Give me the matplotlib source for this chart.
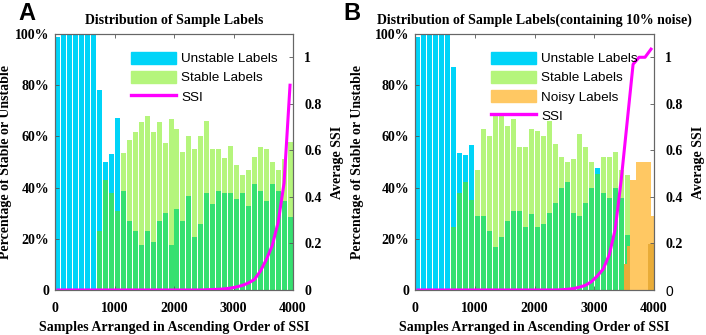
import numpy as np
import matplotlib
matplotlib.use('Agg')
import matplotlib.pyplot as plt
from matplotlib.patches import Patch
from matplotlib.lines import Line2D

# bins of 100 samples, 0..4000
bin_centers = np.arange(50, 4000, 100)
noisy_centers = np.arange(3525, 4000, 50)

# panel A
a_unstable = [0.99, 1, 1, 1, 1, 1, 1, 0.78, 0.50, 0.53, 0.67,
              0.388, 0.268, 0.229, 0.176, 0.229, 0.187, 0.268, 0.30, 0.176,
              0.318, 0.268, 0.369, 0.207, 0.259, 0.379, 0.337, 0.388, 0.379, 0.379,
              0.356, 0.379, 0.327, 0.416, 0.388, 0.346, 0.416, 0.388, 0.346, 0.287]
a_stable = [0, 0, 0, 0, 0, 0, 0, 0.23, 0.43, 0.38, 0.31,
            0.537, 0.587, 0.617, 0.658, 0.678, 0.617, 0.658, 0.575, 0.668,
            0.627, 0.538, 0.60, 0.549, 0.60, 0.66, 0.549, 0.549, 0.516, 0.562,
            0.49, 0.45, 0.47, 0.52, 0.56, 0.55, 0.50, 0.47, 0.51, 0.58]
a_ssi = [0] * 25 + [0.001, 0.002, 0.003, 0.005, 0.008, 0.013, 0.02, 0.03, 0.045,
                    0.08, 0.13, 0.19, 0.29, 0.46, 0.88]

# panel B
b_unstable = [0.99, 1, 1, 1, 1, 1, 0.87, 0.537, 0.528, 0.567,
              0.29, 0.29, 0.23, 0.167, 0.208, 0.268, 0.307, 0.307, 0.248, 0.298,
              0.248, 0.257, 0.30, 0.339, 0.40, 0.42, 0.30, 0.29, 0.339, 0.40,
              0.477, 0.377, 0.358, 0.40, 0.36, 0.216, 0, 0, 0, 0]
b_stable = [0, 0, 0, 0, 0, 0, 0.248, 0.379, 0.42, 0.35,
            0.467, 0.63, 0.60, 0.68, 0.685, 0.64, 0.668, 0.56, 0.56, 0.63,
            0.62, 0.60, 0.66, 0.57, 0.52, 0.50, 0.51, 0.61, 0.56, 0.50,
            0.455, 0.52, 0.52, 0.54, 0.47, 0.448, 0, 0, 0, 0.18]
b_noisy = [0.10, 0.17, 0.43, 0.43, 0.50, 0.50, 0.50, 0.50, 0.50, 0.29]
b_ssi = [0] * 24 + [0.001, 0.003, 0.006, 0.012, 0.02, 0.035, 0.06, 0.09, 0.15,
                    0.26, 0.47, 0.72, 0.97, 1.0, 1.0, 1.035]

pct_ticks = [0, 0.2, 0.4, 0.6, 0.8, 1.0]
pct_labels = ['0', '20%', '40%', '60%', '80%', '100%']
ssi_ticks = [0, 0.2, 0.4, 0.6, 0.8, 1.0]
ssi_labels = ['0', '0.2', '0.4', '0.6', '0.8', '1']
x_ticks = [0, 1000, 2000, 3000, 4000]

CYAN = '#00d4f8'
LIGHT = '#b5f57c'
DARK = '#36e070'
ORANGE = '#ffc863'
DORANGE = '#e9ac38'
MAGENTA = '#ff00ff'
SERIF = 'Liberation Serif'
SANS = 'Liberation Sans'
W, H = 706, 335


def draw_panel(rect, unstable, stable, ssi, title, noisy=None, ylab_x=-0.18, leg_x=0.32):
    ax = fig.add_axes(rect)
    unstable = np.array(unstable)
    stable = np.array(stable)
    ax.bar(bin_centers, unstable, width=84, color=CYAN, linewidth=0)
    ax.bar(bin_centers, stable, width=84, color=LIGHT, linewidth=0)
    ax.bar(bin_centers, np.minimum(unstable, stable), width=84, color=DARK, linewidth=0)
    handles = [Patch(color=CYAN, label='Unstable Labels'),
               Patch(color=LIGHT, label='Stable Labels')]
    if noisy is not None:
        noisy = np.array(noisy)
        under = np.repeat(stable[-5:], 2)
        ax.bar(noisy_centers, noisy, width=40, color=ORANGE, linewidth=0)
        ax.bar(noisy_centers, np.minimum(noisy, under), width=40, color=DORANGE, linewidth=0)
        handles.append(Patch(color=ORANGE, label='Noisy Labels'))
    handles.append(Line2D([], [], color=MAGENTA, lw=2.4, label='SSI'))

    ax.set_xlim(0, 4000)
    ax.set_ylim(0, 1)
    ax.set_xticks(x_ticks)
    ax.set_xticklabels([str(t) for t in x_ticks])
    ax.set_yticks(pct_ticks)
    ax.set_yticklabels(pct_labels)
    ax.tick_params(direction='in', length=3, top=True, width=0.6, colors='#555555',
                   labelcolor='black')
    ax.tick_params(axis='y', pad=4)
    ax.tick_params(axis='x', pad=9)
    ax.set_title(title, fontfamily=SERIF, fontweight='bold', fontsize=10, pad=7)
    ax.set_xlabel('Samples Arranged in Ascending Order of SSI', fontfamily=SERIF,
                  fontweight='bold', fontsize=10, labelpad=4)
    ax.set_ylabel('Percentage of Stable or Unstable', fontfamily=SERIF,
                  fontweight='bold', fontsize=10)
    ax.yaxis.set_label_coords(ylab_x, 0.5)

    ax2 = ax.twinx()
    ax2.plot(bin_centers, ssi, color=MAGENTA, lw=2.2)
    ax2.set_ylim(0, 1.1)
    ax2.set_yticks(ssi_ticks)
    ax2.set_yticklabels(ssi_labels)
    ax2.tick_params(direction='in', length=3, width=0.6, colors='#555555',
                    labelcolor='black', pad=8)
    ax2.set_ylabel('Average SSI', fontfamily=SERIF, fontweight='bold', fontsize=10)
    ax2.yaxis.set_label_coords(1.16, 0.5)

    for a in (ax, ax2):
        for lbl in a.get_xticklabels() + a.get_yticklabels():
            lbl.set_fontfamily(SERIF)
            lbl.set_fontweight('bold')
            lbl.set_fontsize(10)
        for sp in a.spines.values():
            sp.set_color('#666666')
            sp.set_linewidth(0.8)

    ax2.legend(handles=handles, loc='upper left', bbox_to_anchor=(leg_x, 0.93),
               frameon=False, borderpad=0, borderaxespad=0, handlelength=3.3,
               handleheight=0.95, handletextpad=0.4, labelspacing=0.42,
               prop={'family': SANS, 'size': 9.7})
    return ax, ax2


fig = plt.figure(figsize=(W / 100, H / 100), dpi=100)

draw_panel([55 / W, 45 / H, 238 / W, 256 / H], a_unstable, a_stable, a_ssi,
           'Distribution of Sample Labels', ylab_x=-0.18)
axb, axb2 = draw_panel([415 / W, 45 / H, 239 / W, 256 / H], b_unstable, b_stable, b_ssi,
                       'Distribution of Sample Labels(containing 10% noise)',
                       noisy=b_noisy, ylab_x=-0.215)
zero = axb2.get_yticklabels()[0]
zero.set_fontfamily(SANS)
zero.set_fontweight('normal')

fig.text(18 / W, 1 - 20 / H, 'A', fontfamily=SANS, fontweight='bold', fontsize=17,
         va='baseline', ha='left')
fig.text(343 / W, 1 - 20 / H, 'B', fontfamily=SANS, fontweight='bold', fontsize=17,
         va='baseline', ha='left')

fig.savefig('out.png', dpi=100)
